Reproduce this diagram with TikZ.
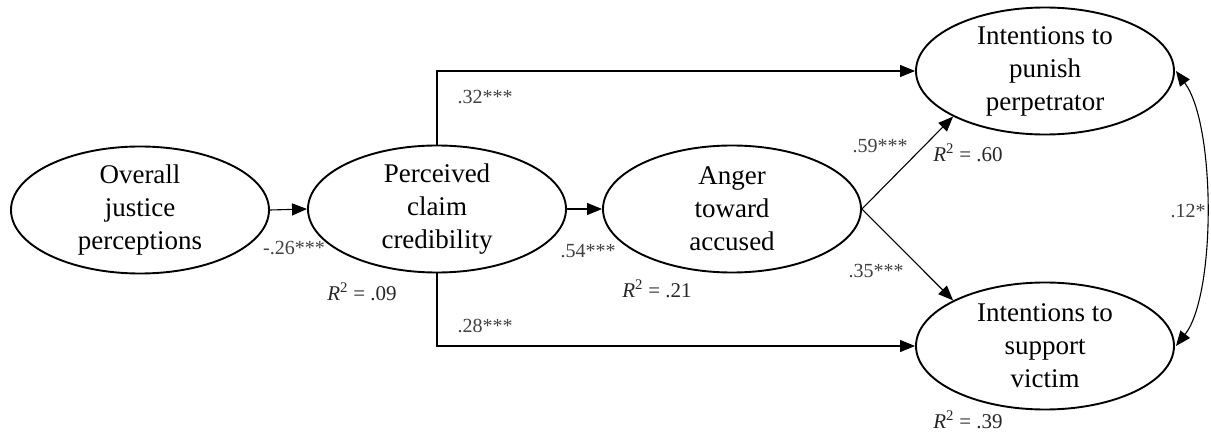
\documentclass[tikz,border=0pt]{standalone}
\usepackage{fontspec}
\setmainfont{Liberation Serif}
\usetikzlibrary{arrows.meta,shapes.geometric}
\begin{document}
\begin{tikzpicture}[x=1pt,y=-1pt,
  latent/.style={draw,ellipse,line width=1.9pt,minimum width=258pt,minimum height=127pt,inner sep=0pt},
  vartext/.style={align=center,inner sep=0pt,font=\fontsize{27}{33}\selectfont},
  coef/.style={inner sep=0pt,text=black!75,font=\fontsize{20}{24}\selectfont},
  rsq/.style={inner sep=0pt,text=black!85,font=\fontsize{21}{24}\selectfont},
  path/.style={line width=1.1pt,-{Triangle[length=15pt,width=12pt]}},
  cov/.style={line width=1.1pt,{Triangle[length=15pt,width=12pt]}-{Triangle[length=15pt,width=12pt]}}]
\useasboundingbox (0,0) rectangle (1211,433);

% latent variables
\node[latent] (just) at (140,210) {};
\node[latent] (cred) at (437,209) {};
\node[latent] (anger) at (732,209) {};
\node[latent] (punish) at (1045,71) {};
\node[latent] (support) at (1045,346) {};

\node[vartext] (justT) at (just) {Overall\\justice\\perceptions};
\node[vartext] (credT) at (cred) {Perceived\\claim\\credibility};
\node[vartext] (angerT) at (anger) {Anger\\toward\\accused};
\node[vartext] (punishT) at (punish) {Intentions to\\punish\\perpetrator};
\node[vartext] (supportT) at (support) {Intentions to\\support\\victim};

% structural paths
\draw[path] (just.east) -- (cred.west);
\draw[path] (cred.east) -- (anger.west);
\draw[path] (cred.north) |- (punish.west);
\draw[path] (cred.south) |- (support.west);
\draw[path] (anger.east) -- (punish.south west);
\draw[path] (anger.east) -- (support.north west);

% residual covariance
\coordinate (pe) at ([xshift=1pt]punish.east);
\coordinate (se) at ([xshift=1pt]support.east);
\draw[cov] (pe) .. controls (1216,125) and (1216,295) .. (se);

% coefficients
\node[coef] (c1) at (294,248) {-.26***};
\node[coef] (c2) at (485,97) {.32***};
\node[coef] (c3) at (485,326) {.28***};
\node[coef] (c4) at (588,251) {.54***};
\node[coef] (c5) at (880,146) {.59***};
\node[coef] (c6) at (876,271) {.35***};
\node[coef] (c7) at (1188,211) {.12*};

% explained variance
\node[rsq] (r1) at (362,292) {\textit{R}\textsuperscript{2} = .09};
\node[rsq] (r2) at (657,289) {\textit{R}\textsuperscript{2} = .21};
\node[rsq] (r3) at (968,153) {\textit{R}\textsuperscript{2} = .60};
\node[rsq] (r4) at (968,420) {\textit{R}\textsuperscript{2} = .39};
\end{tikzpicture}
\end{document}
